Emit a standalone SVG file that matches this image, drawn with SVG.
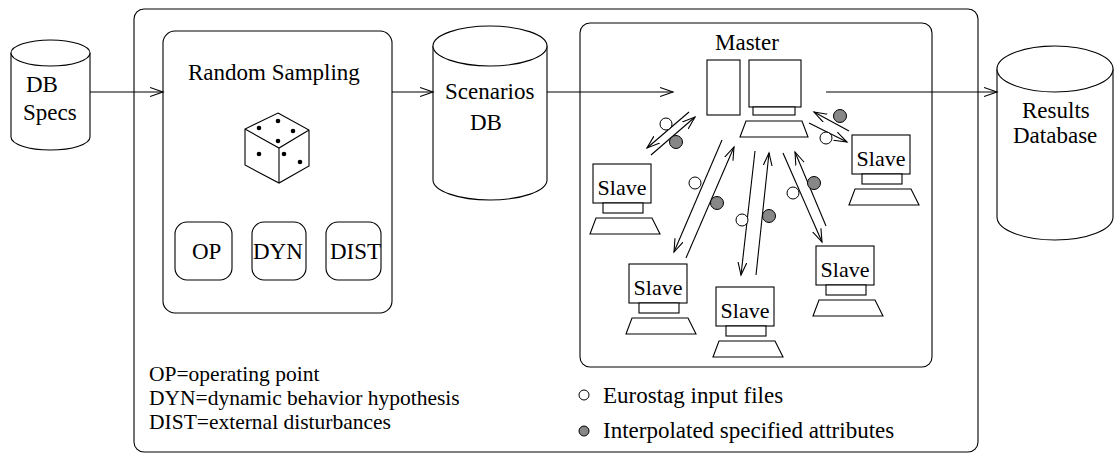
<svg xmlns="http://www.w3.org/2000/svg" width="1117" height="454" viewBox="0 0 1117 454">
  <style>
    .ln { fill: none; stroke: #000; stroke-width: 1.1; }
    .box { fill: #fff; stroke: #000; stroke-width: 1.1; }
    text { font-family: 'Liberation Serif', Tinos, 'DejaVu Serif', serif; fill: #000; }
    .t { font-size: 23px; }
    .ts { font-size: 22px; }
    .lg { font-size: 21.5px; }
    .dot { fill: #000; }
    .wc { fill: #fff; stroke: #000; stroke-width: 1; }
    .gc { fill: #878787; stroke: #000; stroke-width: 1; }
    .arr { fill: none; stroke: #000; stroke-width: 1.1; marker-end: url(#vee); }
  </style>
  <defs>
    <marker id="vee" markerUnits="userSpaceOnUse" markerWidth="16" markerHeight="12" refX="13" refY="5" orient="auto">
      <path d="M0,0.5 L13,5 L0,9.5" fill="none" stroke="#000" stroke-width="1.1"/>
    </marker>
  </defs>
  <rect width="1117" height="454" fill="#fff"/>

  <!-- enclosing frame -->
  <g id="frame">
    <rect class="ln" x="134" y="9" width="844" height="443" rx="10"/>
  </g>

  <!-- input specification database -->
  <g id="db-specs">
    <path class="box" d="M11,53 L11,137 A39.5,13 0 0 0 90,137 L90,53"/>
    <ellipse class="box" cx="50.5" cy="53" rx="39.5" ry="13"/>
    <text class="t" x="26" y="92">DB</text>
    <text class="t" x="23" y="120">Specs</text>
  </g>

  <!-- random sampling block -->
  <g id="random-sampling">
    <rect class="box" x="163" y="31" width="229" height="282" rx="12"/>
    <text class="t" x="188" y="80">Random Sampling</text>
    <g id="dice">
      <path class="ln" d="M278,113 L309,130 L309,166 L279,183 L245,165 L245,129 Z M245,129 L279,148 L309,130 M279,148 L279,183"/>
      <circle class="dot" cx="259" cy="128" r="2.3"/>
      <circle class="dot" cx="278" cy="121" r="2.3"/>
      <circle class="dot" cx="293" cy="131" r="2.3"/>
      <circle class="dot" cx="278" cy="141" r="2.3"/>
      <circle class="dot" cx="259" cy="154" r="2.3"/>
      <circle class="dot" cx="284" cy="154" r="2.3"/>
      <circle class="dot" cx="300" cy="162" r="2.3"/>
    </g>
  </g>
  <g id="op">
    <rect class="box" x="175" y="222" width="57" height="58" rx="12"/>
    <text class="t" x="192" y="259">OP</text>
  </g>
  <g id="dyn">
    <rect class="box" x="252" y="222" width="54" height="58" rx="12"/>
    <text class="t" x="253" y="259">DYN</text>
  </g>
  <g id="dist">
    <rect class="box" x="326" y="222" width="55" height="58" rx="12"/>
    <text class="t" x="330" y="259">DIST</text>
  </g>

  <!-- scenarios database -->
  <g id="scenarios-db">
    <path class="box" d="M433,46 L433,180 A57,20 0 0 0 547,180 L547,46"/>
    <ellipse class="box" cx="490" cy="46" rx="57" ry="20"/>
    <text class="t" x="445" y="99">Scenarios</text>
    <text class="t" x="470" y="130">DB</text>
  </g>

  <!-- results database -->
  <g id="results-db">
    <path class="box" d="M997,69 L997,217 A58,23 0 0 0 1113,217 L1113,69"/>
    <ellipse class="box" cx="1055" cy="69" rx="58" ry="23"/>
    <text class="t" x="1022" y="118">Results</text>
    <text class="t" x="1013" y="143">Database</text>
  </g>

  <!-- computing cluster -->
  <g id="cluster">
    <rect class="ln" x="580" y="23" width="352" height="344" rx="10"/>
  </g>

  <g id="master">
    <text class="t" x="715" y="50">Master</text>
    <rect class="box" x="707" y="60" width="33" height="55"/>
    <rect class="box" x="749" y="60" width="52" height="47"/>
    <rect class="box" x="753" y="107" width="42" height="8"/>
    <path class="box" d="M746,121 L802,121 L808,137 L740,137 Z"/>
  </g>

  <g id="slave-1" transform="translate(593,164)">
    <rect class="box" x="0" y="0" width="58" height="39"/>
    <rect class="box" x="10" y="39" width="40" height="10"/>
    <path class="box" d="M3,54 L59,54 L67,70 L-3,70 Z"/>
    <text class="ts" x="29" y="31" text-anchor="middle">Slave</text>
  </g>
  <g id="slave-2" transform="translate(629,264)">
    <rect class="box" x="0" y="0" width="58" height="39"/>
    <rect class="box" x="10" y="39" width="40" height="10"/>
    <path class="box" d="M3,54 L59,54 L67,70 L-3,70 Z"/>
    <text class="ts" x="29" y="31" text-anchor="middle">Slave</text>
  </g>
  <g id="slave-3" transform="translate(716,287)">
    <rect class="box" x="0" y="0" width="58" height="39"/>
    <rect class="box" x="10" y="39" width="40" height="10"/>
    <path class="box" d="M3,54 L59,54 L67,70 L-3,70 Z"/>
    <text class="ts" x="29" y="31" text-anchor="middle">Slave</text>
  </g>
  <g id="slave-4" transform="translate(816,246)">
    <rect class="box" x="0" y="0" width="58" height="39"/>
    <rect class="box" x="10" y="39" width="40" height="10"/>
    <path class="box" d="M3,54 L59,54 L67,70 L-3,70 Z"/>
    <text class="ts" x="29" y="31" text-anchor="middle">Slave</text>
  </g>
  <g id="slave-5" transform="translate(852,135)">
    <rect class="box" x="0" y="0" width="58" height="39"/>
    <rect class="box" x="10" y="39" width="40" height="10"/>
    <path class="box" d="M3,54 L59,54 L67,70 L-3,70 Z"/>
    <text class="ts" x="29" y="31" text-anchor="middle">Slave</text>
  </g>

  <!-- data flow -->
  <g id="connectors">
    <line class="arr" x1="90" y1="92" x2="163" y2="92"/>
    <line class="arr" x1="392" y1="92" x2="433" y2="92"/>
    <line class="arr" x1="547" y1="92" x2="673" y2="92"/>
    <line class="arr" x1="826" y1="92" x2="997" y2="92"/>

    <!-- master / slave 1 -->
    <line class="arr" x1="689" y1="112" x2="647" y2="148"/>
    <line class="arr" x1="651" y1="155" x2="695" y2="117"/>
    <!-- master / slave 5 -->
    <line class="arr" x1="809" y1="123" x2="847" y2="142"/>
    <line class="arr" x1="849" y1="131" x2="814" y2="112"/>
    <!-- master / slave 2 -->
    <line class="arr" x1="722" y1="140" x2="674" y2="252"/>
    <line class="arr" x1="686" y1="258" x2="734" y2="147"/>
    <!-- master / slave 3 -->
    <line class="arr" x1="755" y1="151" x2="741" y2="275"/>
    <line class="arr" x1="756" y1="275" x2="769" y2="153"/>
    <!-- master / slave 4 -->
    <line class="arr" x1="783" y1="153" x2="822" y2="242"/>
    <line class="arr" x1="826" y1="226" x2="795" y2="152"/>
  </g>

  <!-- transferred data markers -->
  <g id="tokens">
    <circle class="wc" cx="666" cy="124" r="6"/>
    <circle class="gc" cx="676" cy="142" r="6.5"/>
    <circle class="gc" cx="840" cy="116" r="6.5"/>
    <circle class="wc" cx="826" cy="138" r="6"/>
    <circle class="wc" cx="695" cy="183" r="6"/>
    <circle class="gc" cx="717" cy="203" r="6.5"/>
    <circle class="wc" cx="742" cy="220" r="6"/>
    <circle class="gc" cx="769" cy="216" r="6.5"/>
    <circle class="wc" cx="793" cy="193" r="6"/>
    <circle class="gc" cx="814" cy="183" r="6.5"/>
  </g>

  <!-- legends -->
  <g id="abbreviations">
    <text class="lg" x="149" y="381">OP=operating point</text>
    <text class="lg" x="149" y="405">DYN=dynamic behavior hypothesis</text>
    <text class="lg" x="149" y="429">DIST=external disturbances</text>
  </g>
  <g id="token-legend">
    <circle class="wc" cx="584" cy="395" r="5"/>
    <text class="t" x="603" y="403">Eurostag input files</text>
    <circle class="gc" cx="584" cy="431" r="5"/>
    <text class="t" x="603" y="438">Interpolated specified attributes</text>
  </g>
</svg>
